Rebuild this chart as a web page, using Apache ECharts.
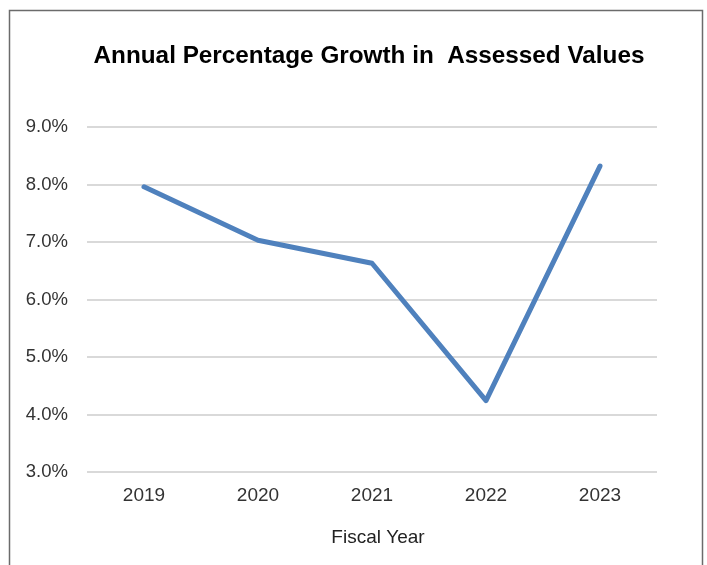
<!DOCTYPE html>
<html>
<head>
<meta charset="utf-8">
<script src="https://cdn.jsdelivr.net/npm/echarts@6/dist/echarts.min.js"></script>
<style>
  html, body { margin: 0; padding: 0; background: #fff; }
  #chart { width: 707px; height: 565px; }
</style>
</head>
<body>
<div id="chart"></div>
<script>
// Fiscal years and annual growth in assessed values (percent)
const years = ['2019', '2020', '2021', '2022', '2023'];
const growth = [7.96, 7.03, 6.63, 4.24, 8.32];
const yTicks = { min: 3, max: 9, step: 1 };

const chart = echarts.init(document.getElementById('chart'), null, { renderer: 'canvas' });
const font = 'Liberation Sans, Arial, sans-serif';

chart.setOption({
  backgroundColor: '#fff',
  animation: false,
  title: {
    text: 'Annual Percentage Growth in  Assessed Values',
    left: 364,
    top: 39,
    textAlign: 'center',
    textStyle: { fontFamily: font, fontSize: 24.3, fontWeight: 'bold', color: '#000' }
  },
  graphic: [{
    type: 'rect',
    shape: { x: 9.5, y: 10.5, width: 693, height: 570 },
    style: { fill: 'none', stroke: '#6b6b6b', lineWidth: 1.5 },
    silent: true
  }],
  grid: { left: 87, right: 50, top: 127, bottom: 93, containLabel: false },
  xAxis: {
    type: 'category',
    data: years,
    boundaryGap: true,
    name: 'Fiscal Year',
    nameLocation: 'middle',
    nameGap: 56,
    nameTextStyle: { fontFamily: font, fontSize: 19, color: '#222', padding: [0, 0, 0, 12] },
    axisLine: { show: false },
    axisTick: { show: false },
    axisLabel: { fontFamily: font, fontSize: 19, color: '#333', margin: 14 }
  },
  yAxis: {
    type: 'value',
    min: yTicks.min,
    max: yTicks.max,
    interval: yTicks.step,
    axisLine: { show: false },
    axisTick: { show: false },
    axisLabel: {
      fontFamily: font, fontSize: 18.5, color: '#333', margin: 19,
      formatter: v => v.toFixed(1) + '%'
    },
    splitLine: { lineStyle: { color: '#d9d9d9', width: 2 } }
  },
  series: [{
    type: 'line',
    data: growth,
    symbol: 'none',
    lineStyle: { color: '#4f81bd', width: 5, cap: 'round', join: 'round' }
  }]
});
</script>
</body>
</html>
